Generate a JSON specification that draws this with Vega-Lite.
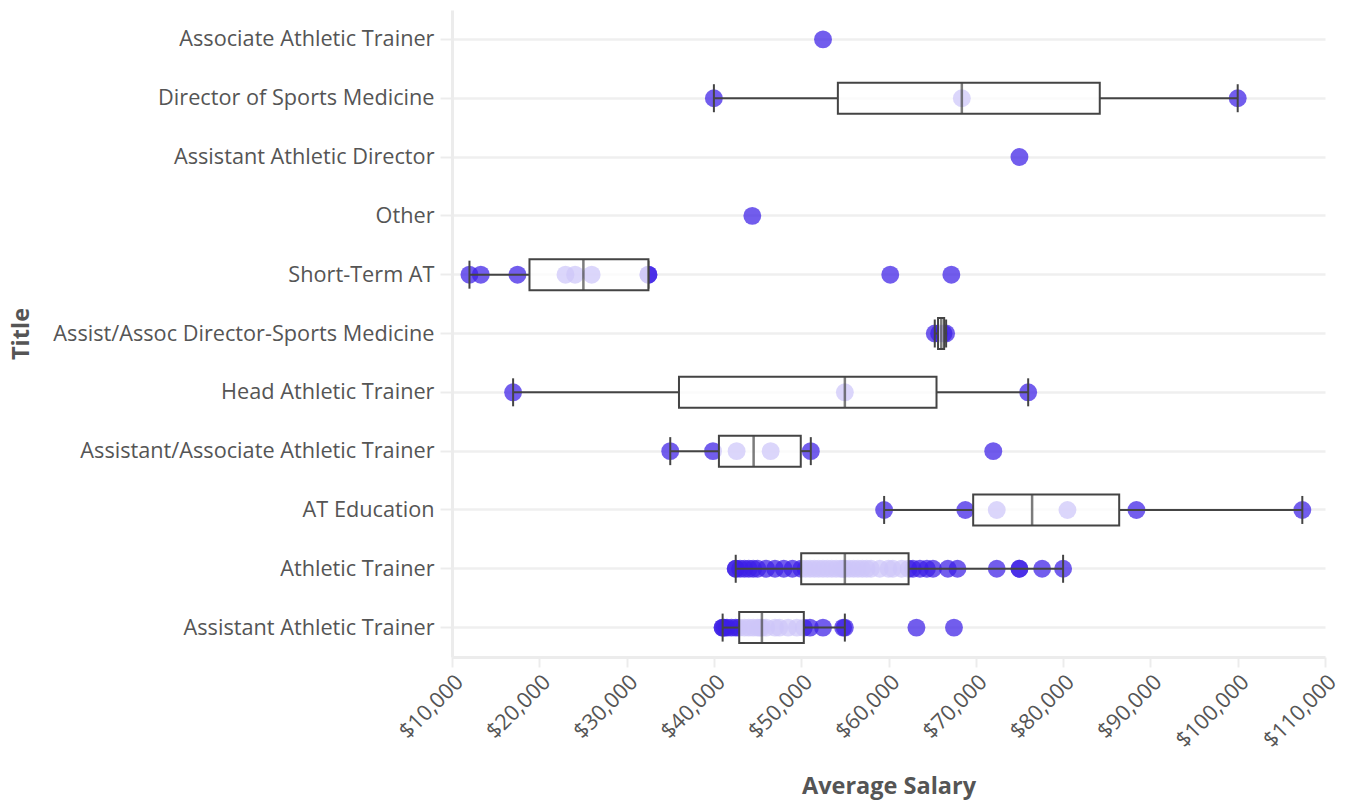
{
  "$schema": "https://vega.github.io/schema/vega-lite/v6.json",
  "width": 873,
  "height": 647,
  "autosize": {"type": "none"},
  "padding": {"left": 452, "top": 10, "right": 23, "bottom": 148},
  "background": "white",
  "config": {
    "font": "Open Sans",
    "view": {"stroke": null},
    "axis": {
      "domainColor": "#ececec",
      "domainWidth": 3,
      "tickColor": "#ececec",
      "tickWidth": 2,
      "gridColor": "#efefef",
      "gridWidth": 2.5,
      "labelColor": "#555555",
      "labelFontSize": 21.7,
      "labelLimit": 0,
      "titleColor": "#555555",
      "titleFontSize": 23.5,
      "titleFontWeight": "bold"
    }
  },
  "data": {
    "values": [
      {"Title": "Associate Athletic Trainer", "Salary": 52500},
      {"Title": "Director of Sports Medicine", "Salary": 40000},
      {"Title": "Director of Sports Medicine", "Salary": 68400},
      {"Title": "Director of Sports Medicine", "Salary": 100000},
      {"Title": "Assistant Athletic Director", "Salary": 75000},
      {"Title": "Other", "Salary": 44400},
      {"Title": "Short-Term AT", "Salary": 12000},
      {"Title": "Short-Term AT", "Salary": 13300},
      {"Title": "Short-Term AT", "Salary": 17500},
      {"Title": "Short-Term AT", "Salary": 23000},
      {"Title": "Short-Term AT", "Salary": 24100},
      {"Title": "Short-Term AT", "Salary": 26000},
      {"Title": "Short-Term AT", "Salary": 32500},
      {"Title": "Short-Term AT", "Salary": 32500},
      {"Title": "Short-Term AT", "Salary": 60200},
      {"Title": "Short-Term AT", "Salary": 67200},
      {"Title": "Assist/Assoc Director-Sports Medicine", "Salary": 65300},
      {"Title": "Assist/Assoc Director-Sports Medicine", "Salary": 65800},
      {"Title": "Assist/Assoc Director-Sports Medicine", "Salary": 66300},
      {"Title": "Assist/Assoc Director-Sports Medicine", "Salary": 66600},
      {"Title": "Head Athletic Trainer", "Salary": 17000},
      {"Title": "Head Athletic Trainer", "Salary": 55000},
      {"Title": "Head Athletic Trainer", "Salary": 76000},
      {"Title": "Assistant/Associate Athletic Trainer", "Salary": 35000},
      {"Title": "Assistant/Associate Athletic Trainer", "Salary": 39900},
      {"Title": "Assistant/Associate Athletic Trainer", "Salary": 42600},
      {"Title": "Assistant/Associate Athletic Trainer", "Salary": 46500},
      {"Title": "Assistant/Associate Athletic Trainer", "Salary": 51100},
      {"Title": "Assistant/Associate Athletic Trainer", "Salary": 72000},
      {"Title": "AT Education", "Salary": 59500},
      {"Title": "AT Education", "Salary": 68800},
      {"Title": "AT Education", "Salary": 72400},
      {"Title": "AT Education", "Salary": 80500},
      {"Title": "AT Education", "Salary": 88400},
      {"Title": "AT Education", "Salary": 107400},
      {"Title": "Athletic Trainer", "Salary": 42500},
      {"Title": "Athletic Trainer", "Salary": 42500},
      {"Title": "Athletic Trainer", "Salary": 43000},
      {"Title": "Athletic Trainer", "Salary": 43500},
      {"Title": "Athletic Trainer", "Salary": 44000},
      {"Title": "Athletic Trainer", "Salary": 44500},
      {"Title": "Athletic Trainer", "Salary": 45000},
      {"Title": "Athletic Trainer", "Salary": 46000},
      {"Title": "Athletic Trainer", "Salary": 47000},
      {"Title": "Athletic Trainer", "Salary": 48000},
      {"Title": "Athletic Trainer", "Salary": 49000},
      {"Title": "Athletic Trainer", "Salary": 50000},
      {"Title": "Athletic Trainer", "Salary": 50500},
      {"Title": "Athletic Trainer", "Salary": 51000},
      {"Title": "Athletic Trainer", "Salary": 51500},
      {"Title": "Athletic Trainer", "Salary": 52000},
      {"Title": "Athletic Trainer", "Salary": 52500},
      {"Title": "Athletic Trainer", "Salary": 53000},
      {"Title": "Athletic Trainer", "Salary": 53500},
      {"Title": "Athletic Trainer", "Salary": 54000},
      {"Title": "Athletic Trainer", "Salary": 54500},
      {"Title": "Athletic Trainer", "Salary": 54800},
      {"Title": "Athletic Trainer", "Salary": 55000},
      {"Title": "Athletic Trainer", "Salary": 55500},
      {"Title": "Athletic Trainer", "Salary": 56000},
      {"Title": "Athletic Trainer", "Salary": 56500},
      {"Title": "Athletic Trainer", "Salary": 57000},
      {"Title": "Athletic Trainer", "Salary": 57500},
      {"Title": "Athletic Trainer", "Salary": 58000},
      {"Title": "Athletic Trainer", "Salary": 59000},
      {"Title": "Athletic Trainer", "Salary": 60000},
      {"Title": "Athletic Trainer", "Salary": 60500},
      {"Title": "Athletic Trainer", "Salary": 61500},
      {"Title": "Athletic Trainer", "Salary": 62300},
      {"Title": "Athletic Trainer", "Salary": 62800},
      {"Title": "Athletic Trainer", "Salary": 63600},
      {"Title": "Athletic Trainer", "Salary": 64400},
      {"Title": "Athletic Trainer", "Salary": 65100},
      {"Title": "Athletic Trainer", "Salary": 66800},
      {"Title": "Athletic Trainer", "Salary": 67900},
      {"Title": "Athletic Trainer", "Salary": 72400},
      {"Title": "Athletic Trainer", "Salary": 75000},
      {"Title": "Athletic Trainer", "Salary": 75000},
      {"Title": "Athletic Trainer", "Salary": 77600},
      {"Title": "Athletic Trainer", "Salary": 80000},
      {"Title": "Assistant Athletic Trainer", "Salary": 41000},
      {"Title": "Assistant Athletic Trainer", "Salary": 41000},
      {"Title": "Assistant Athletic Trainer", "Salary": 41200},
      {"Title": "Assistant Athletic Trainer", "Salary": 41500},
      {"Title": "Assistant Athletic Trainer", "Salary": 42000},
      {"Title": "Assistant Athletic Trainer", "Salary": 42500},
      {"Title": "Assistant Athletic Trainer", "Salary": 42900},
      {"Title": "Assistant Athletic Trainer", "Salary": 43500},
      {"Title": "Assistant Athletic Trainer", "Salary": 44000},
      {"Title": "Assistant Athletic Trainer", "Salary": 44500},
      {"Title": "Assistant Athletic Trainer", "Salary": 45000},
      {"Title": "Assistant Athletic Trainer", "Salary": 45300},
      {"Title": "Assistant Athletic Trainer", "Salary": 45500},
      {"Title": "Assistant Athletic Trainer", "Salary": 46000},
      {"Title": "Assistant Athletic Trainer", "Salary": 47000},
      {"Title": "Assistant Athletic Trainer", "Salary": 47500},
      {"Title": "Assistant Athletic Trainer", "Salary": 48500},
      {"Title": "Assistant Athletic Trainer", "Salary": 49500},
      {"Title": "Assistant Athletic Trainer", "Salary": 50300},
      {"Title": "Assistant Athletic Trainer", "Salary": 51000},
      {"Title": "Assistant Athletic Trainer", "Salary": 52500},
      {"Title": "Assistant Athletic Trainer", "Salary": 54800},
      {"Title": "Assistant Athletic Trainer", "Salary": 55000},
      {"Title": "Assistant Athletic Trainer", "Salary": 63200},
      {"Title": "Assistant Athletic Trainer", "Salary": 67500}
    ]
  },
  "encoding": {
    "y": {
      "field": "Title",
      "type": "nominal",
      "sort": [
        "Associate Athletic Trainer",
        "Director of Sports Medicine",
        "Assistant Athletic Director",
        "Other",
        "Short-Term AT",
        "Assist/Assoc Director-Sports Medicine",
        "Head Athletic Trainer",
        "Assistant/Associate Athletic Trainer",
        "AT Education",
        "Athletic Trainer",
        "Assistant Athletic Trainer"
      ],
      "title": "Title",
      "axis": {"grid": true, "tickSize": 12, "labelPadding": 6, "titlePadding": 219}
    }
  },
  "layer": [
    {
      "mark": {"type": "circle", "size": 320, "opacity": 0.72, "color": "#3b1ee6"},
      "encoding": {
        "x": {
          "field": "Salary",
          "type": "quantitative",
          "title": "Average Salary",
          "scale": {"domain": [10000, 110000], "nice": false, "zero": false},
          "axis": {
            "grid": false,
            "format": "$,.0f",
            "values": [10000, 20000, 30000, 40000, 50000, 60000, 70000, 80000, 90000, 100000, 110000],
            "labelAngle": -45,
            "tickSize": 10,
            "labelPadding": 4,
            "titlePadding": 23
          }
        }
      }
    },
    {
      "transform": [
        {"joinaggregate": [{"op": "count", "as": "n"}], "groupby": ["Title"]},
        {"filter": "datum.n > 1"}
      ],
      "mark": {
        "type": "boxplot",
        "extent": 1.5,
        "outliers": false,
        "ticks": {"color": "#444444", "size": 28, "thickness": 2},
        "size": 31,
        "box": {"fill": "white", "fillOpacity": 0.75, "stroke": "#444444", "strokeWidth": 2},
        "median": {"color": "#444444", "thickness": 2.5},
        "rule": {"color": "#444444", "strokeWidth": 2}
      },
      "encoding": {
        "x": {"field": "Salary", "type": "quantitative", "title": "Average Salary"}
      }
    }
  ]
}
